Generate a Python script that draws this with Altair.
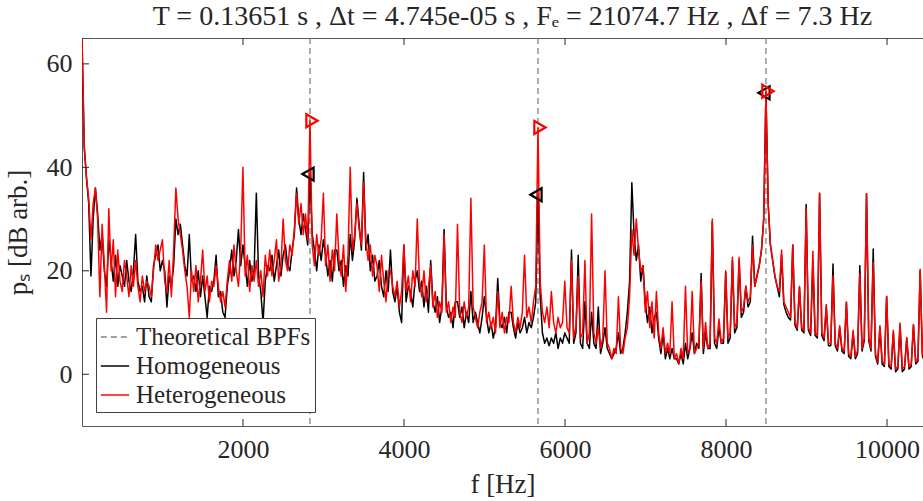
import altair as alt
import pandas as pd

# ---------------- data ----------------
BPF = 2832.0                      # blade passing frequency [Hz]
DF = BPF / 102.0                  # spacing of the transcribed spectrum samples [Hz]
F_MAX = 10447                     # right edge of the x axis [Hz]
SERIES = ["Theoretical BPFs", "Homogeneous", "Heterogeneous"]

bpf_freqs = [2832, 5664, 8496]
hom_peaks = [38.7, 34.7, 54.4]
het_peaks = [49.0, 47.7, 54.7]

x_ticks = [2000, 4000, 6000, 8000, 10000]
y_ticks = [0, 20, 40, 60]

# dB values, one row per 166.6 Hz (shaft harmonic), 6 samples per row
homogeneous = [
    65, 44, 38, 33, 19, 30,
    36, 31, 24, 27, 20, 17,
    26, 22, 18, 23, 17, 21,
    19, 17, 22, 18, 16, 20,
    27, 18, 16, 17, 14, 19,
    15, 14, 21, 23, 25, 20,
    22, 20, 13, 19, 17, 21,
    30, 27, 29, 25, 21, 19,
    27, 18, 19, 16, 20, 15,
    19, 15, 11, 17, 16, 18,
    23, 15, 16, 12, 11, 17,
    20, 24, 19, 22, 28, 21,
    25, 21, 17, 22, 18, 20,
    35, 19, 16, 10, 18, 21,
    20, 23, 18, 21, 24, 19,
    23, 25, 21, 20, 24, 27,
    36, 30, 27, 31, 28, 25,
    38.7, 27, 24, 20, 25, 22,
    26, 23, 19, 22, 18, 24,
    24, 20, 22, 17, 21, 19,
    27, 22, 26, 34, 29, 24,
    39, 24, 27, 20, 23, 18,
    19, 22, 17, 15, 20, 16,
    24, 16, 14, 17, 12, 10,
    25, 14, 17, 16, 13, 18,
    20, 16, 18, 13, 17, 12,
    22, 14, 12, 15, 10, 13,
    28, 13, 11, 12, 9, 14,
    14, 11, 13, 9, 12, 10,
    16, 10, 12, 10, 8, 11,
    15, 11, 8, 10, 7, 9,
    18.5, 10, 9, 11, 8, 12,
    12, 9, 7, 10, 8, 9,
    11, 8, 10, 9, 11, 14,
    34.7, 15, 8, 6, 7, 5.5,
    7, 6, 8, 5, 7, 6,
    8, 7, 6, 24, 6, 8,
    23, 6, 5, 14, 6, 5,
    12, 6, 5, 13, 4, 6,
    9, 5, 4, 3, 4, 5,
    8, 4, 5, 8, 12, 18,
    37, 27, 22, 25, 18, 21,
    14, 10, 13, 8, 11, 12,
    7, 4, 8, 3, 5, 3,
    5, 3, 3, 2, 4, 2,
    6, 3, 5, 8, 4, 6,
    5, 19.5, 4, 8, 5, 5,
    29.5, 6, 5, 9, 6, 6,
    19.7, 6, 7, 22, 8, 9,
    22, 11, 12, 17, 13, 14,
    26.7, 17, 19, 21, 24, 30,
    54.4, 33, 25, 22, 19, 17,
    15, 23, 13.5, 12, 11, 10.5,
    25, 9.5, 8.5, 16.8, 8.5, 8,
    32.8, 8.5, 7.5, 22, 7.5, 7,
    35, 7.5, 6.5, 13, 5.5, 5.5,
    21.3, 5.5, 4.5, 9, 4.5, 4,
    13.9, 3.5, 3, 8, 3, 4,
    21, 4.5, 6.5, 34.9, 6.5, 4.5,
    24.2, 3.5, 2, 9, 2, 1.5,
    15, 1.5, 1, 8, 0.5, 1,
    9.5, 0.5, 1, 7, 1, 1.5,
    9.5, 2, 2.5, 20, 3.5, 2.5,
]

heterogeneous = [
    65, 44, 38, 34, 26, 33,
    36, 30, 15, 29, 21, 12,
    32, 20, 26, 15, 24, 18,
    16, 22, 19, 15, 21, 17,
    22, 17, 14, 19, 16, 18,
    17, 15, 20, 25, 22, 24,
    26, 18, 16, 22, 15, 24,
    36, 30, 27, 24, 20, 17,
    11, 20, 16, 21, 14, 18,
    24, 16, 19, 14, 18, 17,
    21, 17, 14, 16, 13, 18,
    22, 18, 25, 20, 17, 24,
    40, 19, 23, 16, 21, 18,
    22, 17, 20, 15, 23, 19,
    24, 19, 22, 26, 18, 21,
    30, 22, 20, 25, 23, 28,
    35, 29, 33, 27, 31, 26,
    49, 25, 21, 27, 23, 26,
    35, 21, 25, 18, 24, 20,
    31, 22, 19, 25, 16, 23,
    40, 24, 27, 33, 28, 25,
    37, 26, 22, 25, 19, 23,
    21, 16, 23, 18, 14, 20,
    20, 17, 15, 18, 13, 16,
    25, 16, 19, 14, 20, 17,
    30, 18, 15, 20, 14, 17,
    21, 13, 16, 11, 14, 12,
    27, 12, 14, 10, 13, 11,
    29, 12, 10, 14, 11, 13,
    34, 13, 11, 9, 12, 14,
    25, 10, 12, 9, 11, 8,
    16, 9, 12, 8, 11, 10,
    17, 10, 8, 11, 9, 12,
    23, 11, 13, 10, 14, 17,
    47.7, 18, 12, 10, 13, 9,
    16, 10, 8, 11, 9, 10,
    18, 9, 8, 22, 7, 9,
    19, 7, 8, 22, 6, 8,
    31, 8, 6, 9, 5, 7,
    20, 6, 5, 3, 5, 4,
    15, 5, 4, 7, 9, 15,
    28, 23, 30, 24, 20, 21,
    12, 16, 9, 14, 7, 16,
    8, 5, 9, 4, 6, 4,
    14, 3, 4, 2, 5, 3,
    17, 4, 5, 16, 4, 5,
    6, 18, 5, 10, 5, 6,
    30, 7, 6, 10.7, 6, 7,
    20, 7, 8, 22.6, 9, 10,
    22.6, 12, 13, 17, 14, 15,
    25, 17, 19, 21, 24, 30,
    54.7, 33, 25, 22, 19, 17,
    16, 24, 14, 13, 12, 11,
    25, 10, 9, 17, 9, 8.5,
    32, 9, 8, 23.8, 8, 7.5,
    35, 8, 7, 13.5, 6, 6,
    19, 6, 5, 9.4, 5, 4.5,
    13.9, 4, 3.5, 8.5, 3.5, 4.5,
    19.4, 5, 7, 34.9, 7, 5,
    21.6, 4, 2.5, 9.4, 2.5, 2,
    15.1, 2, 1.5, 8.5, 1, 1.5,
    9.9, 1, 1.5, 7, 1.5, 2,
    9.6, 2.5, 3, 20.3, 4, 3,
]

freqs = [i * DF for i in range(len(homogeneous))]

# ---------------- styling ----------------
W, H = 841, 388
FONT = "Liberation Serif"
TXT = "#262626"

xscale = alt.Scale(domain=[0, F_MAX], nice=False, zero=False)
yscale = alt.Scale(domain=[-10, 65], nice=False, zero=False)

xaxis = alt.Axis(values=x_ticks, format="d", grid=False, domain=False, ticks=False,
                 labelPadding=10, labelFont=FONT, labelFontSize=26, labelColor=TXT,
                 titleFont=FONT, titleFontSize=27, titleColor=TXT,
                 titleFontWeight="normal", titlePadding=9)
yaxis = alt.Axis(values=y_ticks, grid=False, domain=False, ticks=False,
                 labelPadding=10, labelFont=FONT, labelFontSize=26, labelColor=TXT,
                 titleFont=FONT, titleFontSize=27, titleColor=TXT,
                 titleFontWeight="normal", titlePadding=14)


def X(field):
    return alt.X(f"{field}:Q", scale=xscale, axis=xaxis, title="f [Hz]")


def Y(field):
    return alt.Y(f"{field}:Q", scale=yscale, axis=yaxis, title="pₛ [dB arb.]")


legend = alt.Legend(title=None, orient="bottom-left", offset=14, labelLimit=400)
color_scale = alt.Scale(domain=SERIES, range=["#808080", "#000000", "#ff0000"])
dash_scale = alt.Scale(domain=SERIES, range=[[6, 4], [1, 0], [1, 0]])


def C():
    return alt.Color("series:N", scale=color_scale, legend=legend)


def D():
    return alt.StrokeDash("series:N", scale=dash_scale, legend=legend)


bpf_df = pd.DataFrame({"f": bpf_freqs, "series": SERIES[0]})
hom_df = pd.DataFrame({"f": freqs, "db": homogeneous, "series": SERIES[1]})
het_df = pd.DataFrame({"f": freqs, "db": heterogeneous, "series": SERIES[2]})
hom_pk = pd.DataFrame({"f": bpf_freqs, "db": hom_peaks})
het_pk = pd.DataFrame({"f": bpf_freqs, "db": het_peaks})
xt_df = pd.DataFrame({"t": x_ticks})
yt_df = pd.DataFrame({"t": y_ticks})

rules = alt.Chart(bpf_df).mark_rule(strokeWidth=1.3).encode(x=X("f"), color=C(), strokeDash=D())
hom_line = alt.Chart(hom_df).mark_line(strokeWidth=1.5, clip=True, strokeJoin="round").encode(
    x=X("f"), y=Y("db"), color=C(), strokeDash=D())
het_line = alt.Chart(het_df).mark_line(strokeWidth=1.5, clip=True, strokeJoin="round").encode(
    x=X("f"), y=Y("db"), color=C(), strokeDash=D())
hom_pts = alt.Chart(hom_pk).mark_point(shape="triangle-left", filled=False, size=170,
                                       strokeWidth=2.2, color="black", opacity=1, xOffset=-2).encode(
    x=X("f"), y=Y("db"))
het_pts = alt.Chart(het_pk).mark_point(shape="triangle-right", filled=False, size=170,
                                       strokeWidth=2.2, color="red", opacity=1, xOffset=2).encode(
    x=X("f"), y=Y("db"))

xt_bot = alt.Chart(xt_df).mark_rule(color=TXT, strokeWidth=1).encode(
    x=X("t"), y=alt.value(H), y2=alt.value(H - 7))
xt_top = alt.Chart(xt_df).mark_rule(color=TXT, strokeWidth=1).encode(
    x=X("t"), y=alt.value(0), y2=alt.value(7))
yt_left = alt.Chart(yt_df).mark_rule(color=TXT, strokeWidth=1).encode(
    y=Y("t"), x=alt.value(0), x2=alt.value(7))

title = alt.TitleParams(
    "T = 0.13651 s , Δt = 4.745e-05 s , Fₑ = 21074.7 Hz , Δf = 7.3 Hz",
    font=FONT, fontSize=28, fontWeight="normal", color=TXT,
    anchor="middle", dx=10, offset=6)

chart = alt.layer(rules, hom_line, het_line, hom_pts, het_pts, xt_bot, xt_top, yt_left).properties(
    width=W, height=H, title=title,
    autosize=alt.AutoSizeParams(type="none"),
    padding={"left": 82, "top": 38, "right": 0, "bottom": 75},
).configure_view(stroke="#555555", strokeWidth=1).configure_legend(
    symbolType="stroke", symbolSize=800, symbolStrokeWidth=1.6,
    labelFont=FONT, labelFontSize=25, labelColor=TXT, labelOffset=6,
    labelLimit=400, padding=4, rowPadding=1, strokeColor="#404040",
    fillColor="white", cornerRadius=0,
)

chart.save("out.html", embed_options={"renderer": "svg", "actions": False})
